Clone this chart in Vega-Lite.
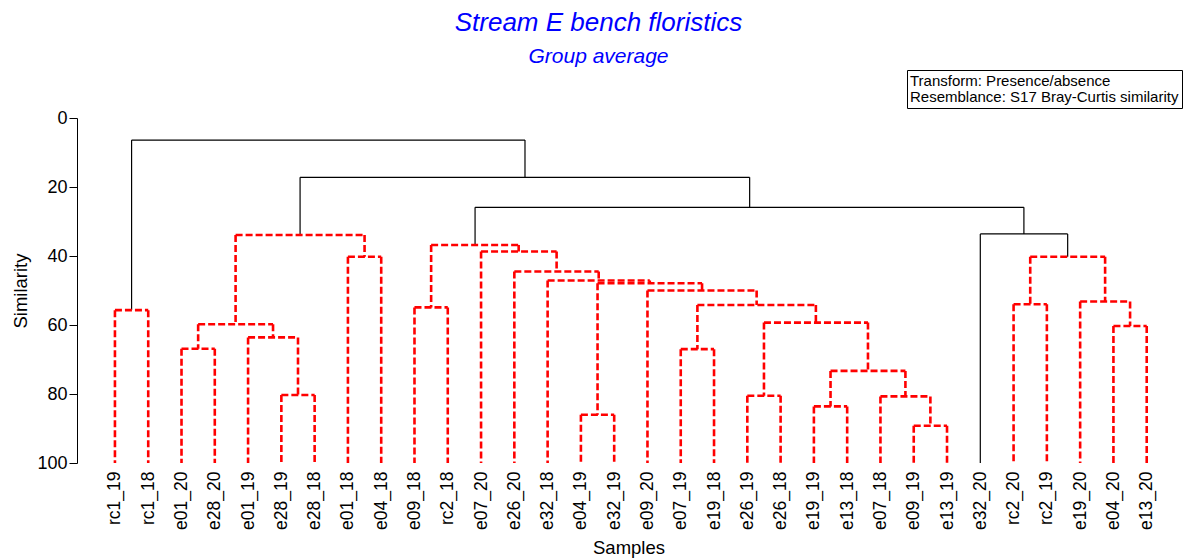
{
  "$schema": "https://vega.github.io/schema/vega-lite/v6.json",
  "autosize": "none",
  "width": 1103,
  "height": 345,
  "padding": {"left": 77, "top": 118, "right": 7, "bottom": 96},
  "background": "white",
  "title": {
    "text": "Stream E bench floristics",
    "subtitle": "Group average",
    "anchor": "middle",
    "dx": -30,
    "font": "Liberation Sans",
    "fontSize": 26,
    "fontStyle": "italic",
    "fontWeight": "normal",
    "color": "#0000FF",
    "subtitleFont": "Liberation Sans",
    "subtitleFontSize": 21,
    "subtitleFontStyle": "italic",
    "subtitleColor": "#0000FF",
    "subtitlePadding": 10,
    "offset": 3
  },
  "config": {"view": {"stroke": null}},
  "datasets": {
    "segments": [
      {"x": 0.5, "x2": 12.32, "y": 6.4, "y2": 6.4, "simprof": "separated"},
      {"x": 0.5, "x2": 0.5, "y": 6.4, "y2": 55.7, "simprof": "separated"},
      {"x": 12.32, "x2": 12.32, "y": 6.4, "y2": 17.2, "simprof": "separated"},
      {"x": 5.5625, "x2": 19.07, "y": 17.2, "y2": 17.2, "simprof": "separated"},
      {"x": 5.5625, "x2": 5.5625, "y": 17.2, "y2": 33.9, "simprof": "separated"},
      {"x": 19.07, "x2": 19.07, "y": 17.2, "y2": 25.9, "simprof": "separated"},
      {"x": 10.82, "x2": 27.31, "y": 25.9, "y2": 25.9, "simprof": "separated"},
      {"x": 10.82, "x2": 10.82, "y": 25.9, "y2": 36.8, "simprof": "separated"},
      {"x": 27.31, "x2": 27.31, "y": 25.9, "y2": 33.6, "simprof": "separated"},
      {"x": 26, "x2": 28.625, "y": 33.6, "y2": 33.6, "simprof": "separated"},
      {"x": 26, "x2": 26, "y": 33.6, "y2": 100, "simprof": "separated"},
      {"x": 28.625, "x2": 28.625, "y": 33.6, "y2": 40.2, "simprof": "separated"},

      {"x": 0, "x2": 1, "y": 55.7, "y2": 55.7, "simprof": "not separated"},
      {"x": 0, "x2": 0, "y": 55.7, "y2": 100, "simprof": "not separated"},
      {"x": 1, "x2": 1, "y": 55.7, "y2": 100, "simprof": "not separated"},

      {"x": 3.625, "x2": 7.5, "y": 33.9, "y2": 33.9, "simprof": "not separated"},
      {"x": 3.625, "x2": 3.625, "y": 33.9, "y2": 59.8, "simprof": "not separated"},
      {"x": 7.5, "x2": 7.5, "y": 33.9, "y2": 40.2, "simprof": "not separated"},
      {"x": 2.5, "x2": 4.75, "y": 59.8, "y2": 59.8, "simprof": "not separated"},
      {"x": 2.5, "x2": 2.5, "y": 59.8, "y2": 66.9, "simprof": "not separated"},
      {"x": 4.75, "x2": 4.75, "y": 59.8, "y2": 63.6, "simprof": "not separated"},
      {"x": 2, "x2": 3, "y": 66.9, "y2": 66.9, "simprof": "not separated"},
      {"x": 2, "x2": 2, "y": 66.9, "y2": 100, "simprof": "not separated"},
      {"x": 3, "x2": 3, "y": 66.9, "y2": 100, "simprof": "not separated"},
      {"x": 4, "x2": 5.5, "y": 63.6, "y2": 63.6, "simprof": "not separated"},
      {"x": 4, "x2": 4, "y": 63.6, "y2": 100, "simprof": "not separated"},
      {"x": 5.5, "x2": 5.5, "y": 63.6, "y2": 80.3, "simprof": "not separated"},
      {"x": 5, "x2": 6, "y": 80.3, "y2": 80.3, "simprof": "not separated"},
      {"x": 5, "x2": 5, "y": 80.3, "y2": 100, "simprof": "not separated"},
      {"x": 6, "x2": 6, "y": 80.3, "y2": 100, "simprof": "not separated"},
      {"x": 7, "x2": 8, "y": 40.2, "y2": 40.2, "simprof": "not separated"},
      {"x": 7, "x2": 7, "y": 40.2, "y2": 100, "simprof": "not separated"},
      {"x": 8, "x2": 8, "y": 40.2, "y2": 100, "simprof": "not separated"},

      {"x": 9.5, "x2": 12.13, "y": 36.8, "y2": 36.8, "simprof": "not separated"},
      {"x": 9.5, "x2": 9.5, "y": 36.8, "y2": 54.9, "simprof": "not separated"},
      {"x": 12.13, "x2": 12.13, "y": 36.8, "y2": 38.7, "simprof": "not separated"},
      {"x": 9, "x2": 10, "y": 54.9, "y2": 54.9, "simprof": "not separated"},
      {"x": 9, "x2": 9, "y": 54.9, "y2": 100, "simprof": "not separated"},
      {"x": 10, "x2": 10, "y": 54.9, "y2": 100, "simprof": "not separated"},
      {"x": 11, "x2": 13.27, "y": 38.7, "y2": 38.7, "simprof": "not separated"},
      {"x": 11, "x2": 11, "y": 38.7, "y2": 100, "simprof": "not separated"},
      {"x": 13.27, "x2": 13.27, "y": 38.7, "y2": 44.5, "simprof": "not separated"},
      {"x": 12, "x2": 14.535, "y": 44.5, "y2": 44.5, "simprof": "not separated"},
      {"x": 12, "x2": 12, "y": 44.5, "y2": 100, "simprof": "not separated"},
      {"x": 14.535, "x2": 14.535, "y": 44.5, "y2": 47.1, "simprof": "not separated"},
      {"x": 13, "x2": 16.07, "y": 47.1, "y2": 47.1, "simprof": "not separated"},
      {"x": 13, "x2": 13, "y": 47.1, "y2": 100, "simprof": "not separated"},
      {"x": 16.07, "x2": 16.07, "y": 47.1, "y2": 47.9, "simprof": "not separated"},
      {"x": 14.5, "x2": 17.64, "y": 47.9, "y2": 47.9, "simprof": "not separated"},
      {"x": 14.5, "x2": 14.5, "y": 47.9, "y2": 86.0, "simprof": "not separated"},
      {"x": 17.64, "x2": 17.64, "y": 47.9, "y2": 50.0, "simprof": "not separated"},
      {"x": 14, "x2": 15, "y": 86.0, "y2": 86.0, "simprof": "not separated"},
      {"x": 14, "x2": 14, "y": 86.0, "y2": 100, "simprof": "not separated"},
      {"x": 15, "x2": 15, "y": 86.0, "y2": 100, "simprof": "not separated"},
      {"x": 16, "x2": 19.28, "y": 50.0, "y2": 50.0, "simprof": "not separated"},
      {"x": 16, "x2": 16, "y": 50.0, "y2": 100, "simprof": "not separated"},
      {"x": 19.28, "x2": 19.28, "y": 50.0, "y2": 54.2, "simprof": "not separated"},
      {"x": 17.5, "x2": 21.06, "y": 54.2, "y2": 54.2, "simprof": "not separated"},
      {"x": 17.5, "x2": 17.5, "y": 54.2, "y2": 67.0, "simprof": "not separated"},
      {"x": 21.06, "x2": 21.06, "y": 54.2, "y2": 59.3, "simprof": "not separated"},
      {"x": 17, "x2": 18, "y": 67.0, "y2": 67.0, "simprof": "not separated"},
      {"x": 17, "x2": 17, "y": 67.0, "y2": 100, "simprof": "not separated"},
      {"x": 18, "x2": 18, "y": 67.0, "y2": 100, "simprof": "not separated"},
      {"x": 19.5, "x2": 22.625, "y": 59.3, "y2": 59.3, "simprof": "not separated"},
      {"x": 19.5, "x2": 19.5, "y": 59.3, "y2": 80.5, "simprof": "not separated"},
      {"x": 22.625, "x2": 22.625, "y": 59.3, "y2": 73.3, "simprof": "not separated"},
      {"x": 19, "x2": 20, "y": 80.5, "y2": 80.5, "simprof": "not separated"},
      {"x": 19, "x2": 19, "y": 80.5, "y2": 100, "simprof": "not separated"},
      {"x": 20, "x2": 20, "y": 80.5, "y2": 100, "simprof": "not separated"},
      {"x": 21.5, "x2": 23.75, "y": 73.3, "y2": 73.3, "simprof": "not separated"},
      {"x": 21.5, "x2": 21.5, "y": 73.3, "y2": 83.6, "simprof": "not separated"},
      {"x": 23.75, "x2": 23.75, "y": 73.3, "y2": 80.7, "simprof": "not separated"},
      {"x": 21, "x2": 22, "y": 83.6, "y2": 83.6, "simprof": "not separated"},
      {"x": 21, "x2": 21, "y": 83.6, "y2": 100, "simprof": "not separated"},
      {"x": 22, "x2": 22, "y": 83.6, "y2": 100, "simprof": "not separated"},
      {"x": 23, "x2": 24.5, "y": 80.7, "y2": 80.7, "simprof": "not separated"},
      {"x": 23, "x2": 23, "y": 80.7, "y2": 100, "simprof": "not separated"},
      {"x": 24.5, "x2": 24.5, "y": 80.7, "y2": 89.2, "simprof": "not separated"},
      {"x": 24, "x2": 25, "y": 89.2, "y2": 89.2, "simprof": "not separated"},
      {"x": 24, "x2": 24, "y": 89.2, "y2": 100, "simprof": "not separated"},
      {"x": 25, "x2": 25, "y": 89.2, "y2": 100, "simprof": "not separated"},

      {"x": 27.5, "x2": 29.75, "y": 40.2, "y2": 40.2, "simprof": "not separated"},
      {"x": 27.5, "x2": 27.5, "y": 40.2, "y2": 54.0, "simprof": "not separated"},
      {"x": 29.75, "x2": 29.75, "y": 40.2, "y2": 53.2, "simprof": "not separated"},
      {"x": 27, "x2": 28, "y": 54.0, "y2": 54.0, "simprof": "not separated"},
      {"x": 27, "x2": 27, "y": 54.0, "y2": 100, "simprof": "not separated"},
      {"x": 28, "x2": 28, "y": 54.0, "y2": 100, "simprof": "not separated"},
      {"x": 29, "x2": 30.5, "y": 53.2, "y2": 53.2, "simprof": "not separated"},
      {"x": 29, "x2": 29, "y": 53.2, "y2": 100, "simprof": "not separated"},
      {"x": 30.5, "x2": 30.5, "y": 53.2, "y2": 60.3, "simprof": "not separated"},
      {"x": 30, "x2": 31, "y": 60.3, "y2": 60.3, "simprof": "not separated"},
      {"x": 30, "x2": 30, "y": 60.3, "y2": 100, "simprof": "not separated"},
      {"x": 31, "x2": 31, "y": 60.3, "y2": 100, "simprof": "not separated"}
    ],
    "notes": [
      {"note": "Transform: Presence/absence"},
      {"note": "Resemblance: S17 Bray-Curtis similarity"}
    ]
  },
  "layer": [
    {
      "data": {"name": "segments"},
      "encoding": {
        "x": {
          "field": "x",
          "type": "quantitative",
          "scale": {"domain": [-1.14, 32], "nice": false, "zero": false},
          "axis": {
            "values": [0,1,2,3,4,5,6,7,8,9,10,11,12,13,14,15,16,17,18,19,20,21,22,23,24,25,26,27,28,29,30,31],
            "labelExpr": "['rc1_19','rc1_18','e01_20','e28_20','e01_19','e28_19','e28_18','e01_18','e04_18','e09_18','rc2_18','e07_20','e26_20','e32_18','e04_19','e32_19','e09_20','e07_19','e19_18','e26_19','e26_18','e19_19','e13_18','e07_18','e09_19','e13_19','e32_20','rc2_20','rc2_19','e19_20','e04_20','e13_20'][datum.value]",
            "labelAngle": 270,
            "labelFont": "Liberation Sans",
            "labelFontSize": 17.5,
            "labelColor": "black",
            "labelPadding": 8,
            "labelOverlap": false,
            "labelFlush": false,
            "ticks": false,
            "domain": false,
            "grid": false,
            "title": "Samples",
            "titleFont": "Liberation Sans",
            "titleFontSize": 18.5,
            "titleFontWeight": "normal",
            "titleColor": "black",
            "titlePadding": 9
          }
        },
        "x2": {"field": "x2"},
        "y": {
          "field": "y",
          "type": "quantitative",
          "scale": {"domain": [0, 100], "reverse": true, "nice": false, "zero": false},
          "axis": {
            "values": [0, 20, 40, 60, 80, 100],
            "title": "Similarity",
            "titleFont": "Liberation Sans",
            "titleFontSize": 18.5,
            "titleFontWeight": "normal",
            "titleColor": "black",
            "titlePadding": 6,
            "labelFont": "Liberation Sans",
            "labelFontSize": 18,
            "labelColor": "black",
            "labelPadding": 2,
            "tickSize": 8,
            "tickColor": "black",
            "domainColor": "black",
            "grid": false
          }
        },
        "y2": {"field": "y2"}
      },
      "layer": [
        {
          "transform": [{"filter": "datum.simprof === 'separated'"}],
          "mark": {"type": "rule", "color": "black", "strokeWidth": 1.2}
        },
        {
          "transform": [{"filter": "datum.simprof === 'not separated'"}],
          "mark": {"type": "rule", "color": "#FF0000", "strokeWidth": 2.6, "strokeDash": [7, 3], "strokeCap": "butt"}
        }
      ]
    },
    {
      "data": {"name": "notes"},
      "mark": {"type": "point", "opacity": 0},
      "encoding": {
        "shape": {
          "field": "note",
          "type": "nominal",
          "scale": {"domain": ["Transform: Presence/absence", "Resemblance: S17 Bray-Curtis similarity"]},
          "legend": {
            "title": null,
            "orient": "none",
            "legendX": 830,
            "legendY": -48,
            "strokeColor": "black",
            "fillColor": "white",
            "padding": 3,
            "labelFont": "Liberation Sans",
            "labelFontSize": 15,
            "labelColor": "black",
            "labelLimit": 400,
            "labelOffset": -15,
            "symbolSize": 0,
            "symbolStrokeWidth": 0,
            "symbolOpacity": 0,
            "rowPadding": -5
          }
        }
      }
    }
  ]
}
